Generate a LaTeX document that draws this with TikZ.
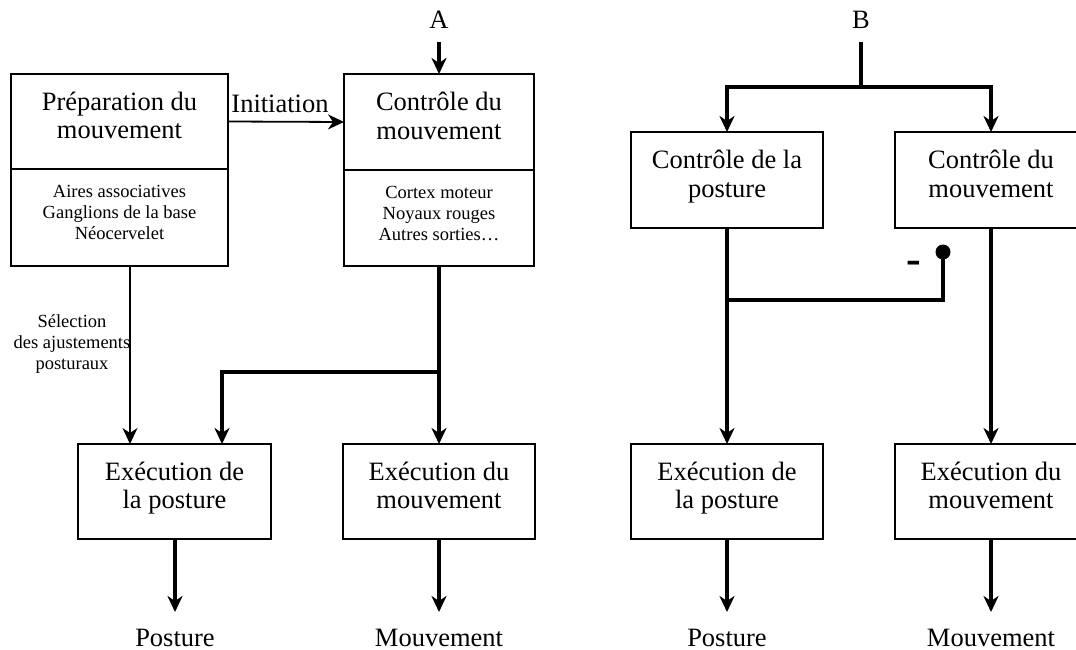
\documentclass[tikz,border=0pt]{standalone}
\usepackage{fontspec}
\setmainfont{Liberation Serif}
\usetikzlibrary{arrows.meta}
\newcommand\bigtxt{\fontsize{26.5}{28.5}\selectfont}
\newcommand\smalltxt{\fontsize{18.5}{21}\selectfont}
% struts that fix the vertical placement of two-line and three-line box texts
\newcommand\tophi{\rule{0pt}{20pt}}
\newcommand\botlo{\rule[-14pt]{0pt}{14pt}}
\newcommand\topsm{\rule{0pt}{14pt}}
\newcommand\botsm{\rule[-12pt]{0pt}{12pt}}
\begin{document}
\begin{tikzpicture}[x=1pt,y=-1pt,
  box/.style={draw, line width=1.6pt, inner sep=0pt, outer sep=0pt,
    align=center, font=\bigtxt},
  subbox/.style={box, font=\smalltxt},
  lbl/.style={inner sep=0pt, font=\bigtxt},
  thickline/.style={line width=3.2pt},
  thickarr/.style={line width=3.2pt, -{Stealth[length=16pt, width=15pt, inset=5pt]}},
  thinarr/.style={line width=1.8pt, -{Stealth[length=16pt, width=15pt, inset=5pt]}}
]
\clip (0,0) rectangle (1076,650);

% ---- panel A: boxes ----
\node[box, minimum width=217pt, minimum height=95pt] (prepT) at (119.5,121.5) {\tophi Préparation du\\mouvement\botlo};
\node[subbox, minimum width=217pt, minimum height=97pt] (prepB) at (119.5,217.5) {\topsm Aires associatives\\Ganglions de la base\\Néocervelet\botsm};
\node[box, minimum width=190pt, minimum height=96pt] (ctlAT) at (439,122) {\tophi Contrôle du\\mouvement\botlo};
\node[subbox, minimum width=190pt, minimum height=96pt] (ctlAB) at (439,218) {\topsm Cortex moteur\\Noyaux rouges\\Autres sorties…\botsm};
\node[box, minimum width=193pt, minimum height=95pt] (exPA) at (174.5,491.5) {\tophi Exécution de\\la posture\botlo};
\node[box, minimum width=192pt, minimum height=95pt] (exMA) at (439,491.5) {\tophi Exécution du\\mouvement\botlo};

% ---- panel A: labels ----
\node[lbl, anchor=base] (labA) at (439,29) {A};
\node[lbl, anchor=base] (lbInit) at (280,113) {Initiation};
\node[inner sep=0pt, align=center, font=\smalltxt] (lbSel) at (72,344) {Sélection\\des ajustements\\posturaux};
\node[lbl, anchor=base] (outPA) at (175,646) {Posture};
\node[lbl, anchor=base] (outMA) at (439,646) {Mouvement};

% ---- panel A: connectors ----
\coordinate (inA) at (439,42);
\coordinate (jA) at (439,372);
\coordinate (xPA) at (222,0);
\coordinate (xSel) at (130,0);
\coordinate (endPA) at (175,612);
\coordinate (endMA) at (439,612);
\draw[thickarr] (inA) -- (ctlAT.north);
\draw[thinarr] (prepT.east) -- (ctlAT.west);
\draw[thickarr] (ctlAB.south) -- (exMA.north);
\draw[thickarr] (jA) -| (exPA.north -| xPA);
\draw[thinarr] (prepB.south -| xSel) -- (exPA.north -| xSel);
\draw[thickarr] (exPA.south -| endPA) -- (endPA);
\draw[thickarr] (exMA.south) -- (endMA);

% ---- panel B: boxes ----
\node[box, minimum width=192pt, minimum height=96pt] (ctPB) at (727,180) {\tophi Contrôle de la\\posture\botlo};
\node[box, minimum width=192pt, minimum height=96pt] (ctMB) at (991,180) {\tophi Contrôle du\\mouvement\botlo};
\node[box, minimum width=192pt, minimum height=95pt] (exPB) at (727,491.5) {\tophi Exécution de\\la posture\botlo};
\node[box, minimum width=192pt, minimum height=95pt] (exMB) at (991,491.5) {\tophi Exécution du\\mouvement\botlo};

% ---- panel B: labels ----
\node[lbl, anchor=base] (labB) at (861,29) {B};
\node[inner sep=0pt, font=\fontsize{44}{44}\selectfont\bfseries] (minus) at (914,267) {-};
\node[lbl, anchor=base] (outPB) at (727,646) {Posture};
\node[lbl, anchor=base] (outMB) at (991,646) {Mouvement};

% ---- panel B: connectors ----
\coordinate (inB) at (861,42);
\coordinate (spB) at (861,87);
\coordinate (jB) at (727,300);
\coordinate (inh) at (943,252);
\coordinate (endPB) at (727,612);
\coordinate (endMB) at (991,612);
\draw[thickline] (inB) -- (spB);
\draw[thickarr] (spB) -| (ctPB.north);
\draw[thickarr] (spB) -| (ctMB.north);
\draw[thickarr] (ctPB.south) -- (exPB.north);
\draw[thickline] (jB) -| (inh);
\fill (inh) circle[radius=7.5];
\draw[thickarr] (ctMB.south) -- (exMB.north);
\draw[thickarr] (exPB.south) -- (endPB);
\draw[thickarr] (exMB.south) -- (endMB);
\end{tikzpicture}
\end{document}
